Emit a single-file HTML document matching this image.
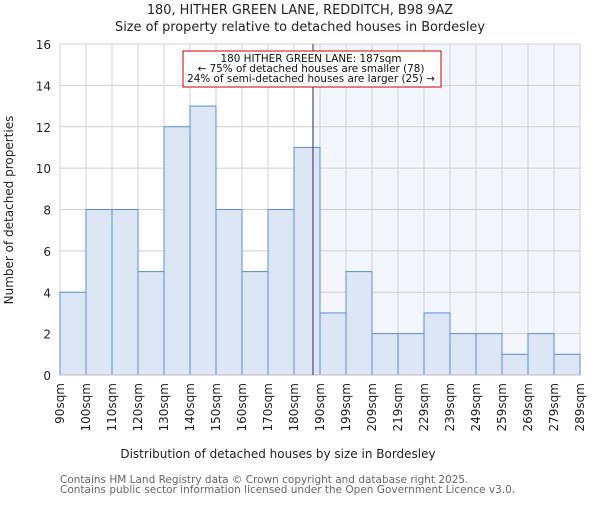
<!DOCTYPE html>
<html><head><meta charset="utf-8"><style>
body{margin:0;background:#fff;}
svg text{font-family:"DejaVu Sans","Liberation Sans",sans-serif;}
</style></head><body>
<svg id="chart" width="600" height="500" xmlns="http://www.w3.org/2000/svg">
<text x="300" y="14" text-anchor="middle" font-size="12.9" fill="#222">180, HITHER GREEN LANE, REDDITCH, B98 9AZ</text>
<text x="300" y="31" text-anchor="middle" font-size="12.9" fill="#222">Size of property relative to detached houses in Bordesley</text>
<g id="plot"></g>
<text x="278" y="458" text-anchor="middle" font-size="12" fill="#222">Distribution of detached houses by size in Bordesley</text>
<text transform="translate(13,210) rotate(-90)" text-anchor="middle" font-size="12" fill="#222">Number of detached properties</text>
<text x="60" y="483" font-size="10.5" fill="#666">Contains HM Land Registry data © Crown copyright and database right 2025.</text>
<text x="60" y="493" font-size="10.5" fill="#666">Contains public sector information licensed under the Open Government Licence v3.0.</text>
</svg>
<script>
const categories=["90sqm","100sqm","110sqm","120sqm","130sqm","140sqm","150sqm","160sqm","170sqm","180sqm","190sqm","199sqm","209sqm","219sqm","229sqm","239sqm","249sqm","259sqm","269sqm","279sqm","289sqm"];
const counts=[4,8,8,5,12,13,8,5,8,11,3,5,2,2,3,2,2,1,2,1];
const yTicks=[0,2,4,6,8,10,12,14,16];
const markerIndex=9.73;
const NS="http://www.w3.org/2000/svg";
const g=document.getElementById('plot');
const L=60,R=580,T=44,B=375,yMax=16;
const bw=(R-L)/counts.length;
const xs=i=>L+i*bw;
const ys=v=>B-(v/yMax)*(B-T);
function mk(t,a){const e=document.createElementNS(NS,t);for(const k in a)e.setAttribute(k,a[k]);g.appendChild(e);return e;}
let e;
e=mk('rect',{x:xs(markerIndex),y:T,width:R-xs(markerIndex),height:B-T,fill:'#f3f6fd'});


yTicks.forEach(v=>{
 e=mk('line',{x1:L,x2:R,y1:ys(v),y2:ys(v),stroke:'#d0d0d0','stroke-width':1});
 
 
 e=mk('text',{x:L-9,y:ys(v)+5,'text-anchor':'end','font-size':12,fill:'#222'});e.textContent=v;
 
 
});
categories.forEach((c,i)=>{
 e=mk('line',{x1:xs(i),x2:xs(i),y1:T,y2:B,stroke:'#d0d0d0','stroke-width':1});
 
 
 const x=xs(i),y=B+8;
 e=mk('text',{transform:`translate(${x+4},${y}) rotate(-90)`,'text-anchor':'end','font-size':12,fill:'#222'});e.textContent=c;
 
 
});
counts.forEach((v,i)=>{
 e=mk('rect',{x:xs(i),y:ys(v),width:bw,height:B-ys(v),fill:'#dce6f4',stroke:'#5b8fd6','stroke-width':1});
 
 
});
e=mk('line',{x1:L,x2:R,y1:B,y2:B,stroke:'#bbb','stroke-width':1});


e=mk('line',{x1:xs(markerIndex),x2:xs(markerIndex),y1:T,y2:B,stroke:'#2a2a6a','stroke-width':1});


e=mk('rect',{x:183,y:51,width:258,height:36,fill:'#fff',stroke:'#cc0000','stroke-width':1});


["180 HITHER GREEN LANE: 187sqm","← 75% of detached houses are smaller (78)","24% of semi-detached houses are larger (25) →"].forEach((t,k)=>{
 e=mk('text',{x:311,y:62+k*10,'text-anchor':'middle','font-size':10.4,fill:'#111'});e.textContent=t;
 
 
});
</script>
</body></html>
